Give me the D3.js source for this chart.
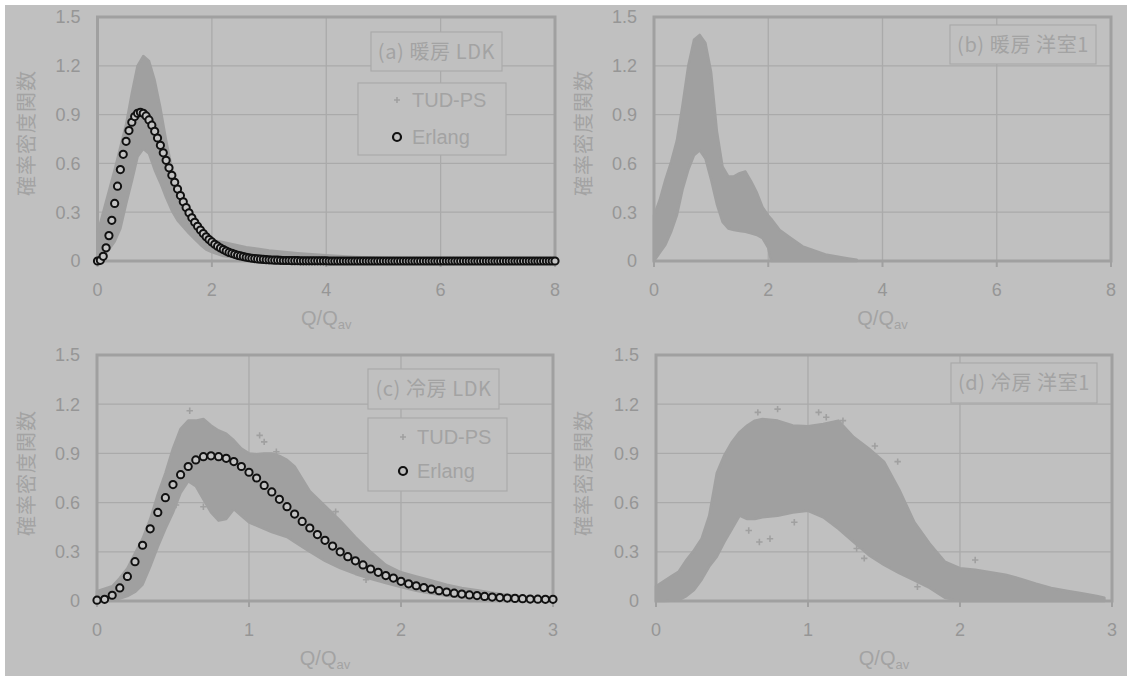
<!DOCTYPE html>
<html><head><meta charset="utf-8">
<script src="https://cdn.jsdelivr.net/npm/d3@7"></script>
<style>body{margin:0;background:#fff}svg{display:block}</style>
</head><body>
<svg id="chart" width="1127" height="678"></svg>
<script>
// ---------- DATA ----------
const Y_TICKS = [0, 0.3, 0.6, 0.9, 1.2, 1.5];
const Y_TICK_LABELS = ["0", "0.3", "0.6", "0.9", "1.2", "1.5"];
const X_TICKS_TOP = [0, 2, 4, 6, 8];
const X_TICKS_BOTTOM = [0, 1, 2, 3];
const Y_TITLE = "確率密度関数";
const X_TITLE_MAIN = "Q/Q";
const X_TITLE_SUB = "av";
const PANEL_TITLES = ["(a) 暖房 LDK", "(b) 暖房 洋室1", "(c) 冷房 LDK", "(d) 冷房 洋室1"];
const LEGEND_LABELS = ["TUD-PS", "Erlang"];

// (a) TUD-PS scatter band (upper / lower envelope)
const A_BAND_X  = [0,0.1,0.2,0.3,0.4,0.5,0.6,0.7,0.8,0.9,1.0,1.1,1.2,1.3,1.4,1.5,1.6,1.7,1.8,1.9,2.0,2.2,2.4,2.6,2.8,3.0,3.5,4.0,4.5,5.0,6.0];
const A_BAND_HI = [0.17,0.30,0.43,0.56,0.70,0.84,1.03,1.20,1.26,1.23,1.11,0.94,0.74,0.57,0.43,0.33,0.25,0.20,0.16,0.14,0.13,0.115,0.10,0.085,0.075,0.064,0.048,0.035,0.025,0.018,0.01];
const A_BAND_LO = [0,0.03,0.07,0.12,0.20,0.35,0.49,0.64,0.69,0.66,0.56,0.48,0.39,0.31,0.25,0.21,0.17,0.135,0.10,0.07,0.055,0.03,0.02,0.013,0.008,0.005,0,0,0,0,0];

// (a) Erlang
const A_ERL_X = [
0,0.05,0.1,0.15,0.2,0.25,0.3,0.35,0.4,0.45,
0.5,0.55,0.6,0.65,0.7,0.75,0.8,0.85,0.9,0.95,
1,1.05,1.1,1.15,1.2,1.25,1.3,1.35,1.4,1.45,
1.5,1.55,1.6,1.65,1.7,1.75,1.8,1.85,1.9,1.95,
2,2.05,2.1,2.15,2.2,2.25,2.3,2.35,2.4,2.45,
2.5,2.55,2.6,2.65,2.7,2.75,2.8,2.85,2.9,2.95,
3,3.05,3.1,3.15,3.2,3.25,3.3,3.35,3.4,3.45,
3.5,3.55,3.6,3.65,3.7,3.75,3.8,3.85,3.9,3.95,
4,4.05,4.1,4.15,4.2,4.25,4.3,4.35,4.4,4.45,
4.5,4.55,4.6,4.65,4.7,4.75,4.8,4.85,4.9,4.95,
5,5.05,5.1,5.15,5.2,5.25,5.3,5.35,5.4,5.45,
5.5,5.55,5.6,5.65,5.7,5.75,5.8,5.85,5.9,5.95,
6,6.05,6.1,6.15,6.2,6.25,6.3,6.35,6.4,6.45,
6.5,6.55,6.6,6.65,6.7,6.75,6.8,6.85,6.9,6.95,
7,7.05,7.1,7.15,7.2,7.25,7.3,7.35,7.4,7.45,
7.5,7.55,7.6,7.65,7.7,7.75,7.8,7.85,7.9,7.95,
8];
const A_ERL_Y = [
0,0.004,0.029,0.081,0.156,0.250,0.354,0.460,0.562,0.656,
0.736,0.802,0.853,0.888,0.908,0.914,0.908,0.892,0.867,0.835,
0.797,0.756,0.711,0.665,0.619,0.573,0.527,0.484,0.442,0.402,
0.364,0.329,0.296,0.266,0.238,0.213,0.190,0.169,0.149,0.132,
0.117,0.103,0.091,0.080,0.070,0.061,0.053,0.047,0.041,0.035,
0.031,0.027,0.023,0.020,0.017,0.015,0.013,0.011,0.010,0.008,
0.007,0.006,0.005,0.005,0.004,0.003,0.003,0.003,0.002,0.002,
0.002,0.001,0.001,0.001,0.001,0.001,0.001,0.001,0.001,0.001,
0.001,0,0,0,0,0,0,0,0,0,
0,0,0,0,0,0,0,0,0,0,
0,0,0,0,0,0,0,0,0,0,
0,0,0,0,0,0,0,0,0,0,
0,0,0,0,0,0,0,0,0,0,
0,0,0,0,0,0,0,0,0,0,
0,0,0,0,0,0,0,0,0,0,
0,0,0,0,0,0,0,0,0,0,
0];

// (b) TUD-PS band
const B_BAND_X  = [0,0.1,0.2,0.3,0.4,0.5,0.6,0.7,0.8,0.9,1.0,1.1,1.2,1.3,1.4,1.5,1.6,1.7,1.8,1.9,2.0,2.05,2.2,2.4,2.6,2.8,3.0,3.2,3.4,3.55];
const B_BAND_HI = [0.28,0.375,0.50,0.61,0.74,0.96,1.20,1.36,1.39,1.34,1.16,0.80,0.58,0.52,0.52,0.54,0.55,0.49,0.42,0.33,0.28,0.26,0.19,0.14,0.09,0.065,0.04,0.028,0.016,0.008];
const B_BAND_LO = [0,0.05,0.10,0.18,0.28,0.44,0.56,0.65,0.68,0.63,0.50,0.35,0.24,0.20,0.19,0.185,0.18,0.17,0.16,0.14,0.08,0,0,0,0,0,0,0,0,0];

// (c) TUD-PS band
const C_BAND_X  = [0,0.05,0.1,0.15,0.2,0.25,0.3,0.35,0.4,0.45,0.5,0.55,0.6,0.65,0.7,0.75,0.8,0.85,0.9,0.95,1.0,1.05,1.1,1.15,1.2,1.25,1.3,1.4,1.5,1.6,1.7,1.8,1.9,2.0,2.1,2.2,2.3,2.4,2.5,2.6,2.7,2.8,2.9,3.0];
const C_BAND_HI = [0.06,0.075,0.09,0.14,0.20,0.29,0.38,0.50,0.65,0.78,0.93,1.05,1.10,1.10,1.11,1.07,1.04,1.02,0.98,0.93,0.90,0.895,0.90,0.90,0.885,0.86,0.82,0.67,0.58,0.49,0.39,0.30,0.22,0.175,0.15,0.125,0.10,0.08,0.065,0.05,0.037,0.028,0.02,0.015];
const C_BAND_LO = [0,0.002,0.006,0.015,0.03,0.055,0.10,0.21,0.33,0.44,0.54,0.66,0.73,0.70,0.62,0.54,0.49,0.50,0.56,0.52,0.48,0.46,0.44,0.42,0.405,0.39,0.36,0.30,0.245,0.20,0.165,0.135,0.11,0.085,0.063,0.045,0.032,0.021,0.013,0.008,0.004,0.002,0,0];
const C_OUT_X = [0.61,1.07,1.10,1.18,0.52,0.70,1.57,1.77];
const C_OUT_Y = [1.16,1.01,0.97,0.91,0.585,0.575,0.545,0.13];

// (c) Erlang
const C_ERL_X = [
0,0.05,0.1,0.15,0.2,0.25,0.3,0.35,0.4,0.45,
0.5,0.55,0.6,0.65,0.7,0.75,0.8,0.85,0.9,0.95,
1,1.05,1.1,1.15,1.2,1.25,1.3,1.35,1.4,1.45,
1.5,1.55,1.6,1.65,1.7,1.75,1.8,1.85,1.9,1.95,
2,2.05,2.1,2.15,2.2,2.25,2.3,2.35,2.4,2.45,
2.5,2.55,2.6,2.65,2.7,2.75,2.8,2.85,2.9,2.95,
3];
const C_ERL_Y = [
0.005,0.01,0.035,0.08,0.15,0.24,0.34,0.44,0.54,0.63,
0.71,0.77,0.82,0.86,0.88,0.885,0.88,0.87,0.85,0.82,
0.785,0.75,0.705,0.665,0.62,0.575,0.53,0.485,0.445,0.405,
0.37,0.335,0.30,0.27,0.245,0.22,0.195,0.175,0.155,0.14,
0.12,0.105,0.093,0.082,0.072,0.063,0.055,0.048,0.042,0.037,
0.033,0.028,0.024,0.021,0.018,0.016,0.014,0.012,0.011,0.01,
0.01];

// (d) TUD-PS band
const D_BAND_X  = [0,0.05,0.1,0.15,0.2,0.25,0.3,0.35,0.4,0.45,0.5,0.55,0.6,0.65,0.7,0.8,0.9,1.0,1.1,1.2,1.3,1.4,1.5,1.6,1.7,1.8,1.9,2.0,2.1,2.2,2.3,2.4,2.5,2.6,2.7,2.8,2.9,2.95];
const D_BAND_HI = [0.09,0.12,0.15,0.18,0.25,0.31,0.38,0.52,0.78,0.89,0.97,1.03,1.07,1.10,1.11,1.10,1.07,1.065,1.08,1.10,1.00,0.93,0.85,0.68,0.48,0.35,0.24,0.20,0.19,0.175,0.16,0.135,0.105,0.08,0.063,0.047,0.03,0.02];
const D_BAND_LO = [0,0,0.002,0.005,0.03,0.067,0.13,0.21,0.27,0.36,0.44,0.52,0.50,0.50,0.51,0.52,0.54,0.55,0.51,0.44,0.36,0.28,0.22,0.17,0.125,0.08,0.02,0,0,0,0,0,0,0,0,0,0,0];
const D_OUT_X = [0.67,0.80,1.07,1.12,1.23,0.61,0.68,0.75,0.91,1.32,1.44,1.59,1.37,2.10,1.72];
const D_OUT_Y = [1.15,1.17,1.15,1.12,1.10,0.43,0.36,0.38,0.48,0.32,0.945,0.85,0.26,0.25,0.087];

// ---------- RENDER ----------
const BG = "#c0c0c0", GRID = "#aaaaaa", FRAME = "#a0a0a0", SCAT = "#a0a0a0",
      TXT = "#a3a3a3", NUM = "#969696";
const NUMFONT = "'Liberation Sans', Arial, sans-serif";
const CJK = "'Noto Sans CJK JP', 'Liberation Sans', sans-serif";

const svg = d3.select("#chart");
svg.append("rect").attr("x", 5).attr("y", 5).attr("width", 1122).attr("height", 671).attr("fill", BG);

const panels = [
  {left:97.5, right:555, top:17, bottom:261, xMax:8, xTicks:X_TICKS_TOP,
   band:[A_BAND_X,A_BAND_HI,A_BAND_LO], erl:[A_ERL_X,A_ERL_Y], out:null,
   title:PANEL_TITLES[0], tbox:[371,32,502,71], lbox:[358,83,506,155], lmark:397, ltext:412, lrows:[100,137],
   ytx:27, yty:133},
  {left:654, right:1111, top:17, bottom:261, xMax:8, xTicks:X_TICKS_TOP,
   band:[B_BAND_X,B_BAND_HI,B_BAND_LO], erl:null, out:null,
   title:PANEL_TITLES[1], tbox:[950,25,1096,64], lbox:null, ytx:584, yty:133},
  {left:97, right:553, top:355, bottom:601, xMax:3, xTicks:X_TICKS_BOTTOM,
   band:[C_BAND_X,C_BAND_HI,C_BAND_LO], erl:[C_ERL_X,C_ERL_Y], out:[C_OUT_X,C_OUT_Y],
   title:PANEL_TITLES[2], tbox:[368,369,499,409], lbox:[368,418,507,491], lmark:403, ltext:417, lrows:[437,471],
   ytx:27, yty:473},
  {left:656, right:1112, top:355, bottom:601, xMax:3, xTicks:X_TICKS_BOTTOM,
   band:[D_BAND_X,D_BAND_HI,D_BAND_LO], erl:null, out:[D_OUT_X,D_OUT_Y],
   title:PANEL_TITLES[3], tbox:[951,363,1097,403], lbox:null, ytx:584, yty:473}
];

function plus(g, cx, cy, s, w, col) {
  g.append("path").attr("d", `M${cx-s},${cy}H${cx+s}M${cx},${cy-s}V${cy+s}`)
   .attr("stroke", col).attr("stroke-width", w).attr("fill", "none");
}

panels.forEach(p => {
  const x = d3.scaleLinear().domain([0, p.xMax]).range([p.left, p.right]);
  const y = d3.scaleLinear().domain([0, 1.5]).range([p.bottom, p.top]);
  const g = svg.append("g");

  // grid
  g.selectAll(".gx").data(p.xTicks).join("line")
    .attr("x1", d => x(d)).attr("x2", d => x(d)).attr("y1", p.top).attr("y2", p.bottom)
    .attr("stroke", GRID).attr("stroke-width", 1.3);
  g.selectAll(".gy").data(Y_TICKS).join("line")
    .attr("x1", p.left).attr("x2", p.right).attr("y1", d => y(d)).attr("y2", d => y(d))
    .attr("stroke", GRID).attr("stroke-width", 1.3);

  // frame
  g.append("rect").attr("x", p.left).attr("y", p.top)
    .attr("width", p.right - p.left).attr("height", p.bottom - p.top)
    .attr("fill", "none").attr("stroke", FRAME).attr("stroke-width", 3);
  // x tick marks
  g.selectAll(".tk").data(p.xTicks).join("line")
    .attr("x1", d => x(d)).attr("x2", d => x(d)).attr("y1", p.bottom).attr("y2", p.bottom + 6)
    .attr("stroke", FRAME).attr("stroke-width", 2);

  // tick labels
  g.selectAll(".yl").data(Y_TICKS).join("text")
    .attr("x", p.left - 17).attr("y", d => y(d)).attr("dy", "0.36em")
    .attr("text-anchor", "end").attr("font-family", NUMFONT).attr("font-size", 18)
    .attr("fill", NUM).text((d, i) => Y_TICK_LABELS[i]);
  g.selectAll(".xl").data(p.xTicks).join("text")
    .attr("x", d => x(d)).attr("y", p.bottom + 35)
    .attr("text-anchor", "middle").attr("font-family", NUMFONT).attr("font-size", 18)
    .attr("fill", NUM).text(d => d);

  // axis titles
  g.append("text").attr("transform", `translate(${p.ytx},${p.yty}) rotate(-90)`)
    .attr("text-anchor", "middle").attr("dy", "0.35em").attr("letter-spacing", 1)
    .attr("font-family", CJK).attr("font-size", 20).attr("fill", TXT).text(Y_TITLE);
  const xt = g.append("text").attr("x", (p.left + p.right) / 2).attr("y", p.bottom + 64)
    .attr("text-anchor", "middle").attr("font-family", NUMFONT).attr("fill", TXT);
  xt.append("tspan").attr("font-size", 20).text(X_TITLE_MAIN);
  xt.append("tspan").attr("font-size", 13).attr("dy", 4).text(X_TITLE_SUB);

  // TUD-PS band
  const [bx, bh, bl] = p.band;
  const area = d3.area().x((d, i) => x(bx[i])).y0((d, i) => y(bl[i])).y1((d, i) => y(bh[i]));
  g.append("path").attr("d", area(bx)).attr("fill", SCAT)
    .attr("stroke", SCAT).attr("stroke-width", 2.5).attr("stroke-linejoin", "round");
  if (p.out) {
    p.out[0].forEach((v, i) => plus(g, x(v), y(p.out[1][i]), 3.2, 1.6, SCAT));
  }

  // Erlang
  if (p.erl) {
    const [ex, ey] = p.erl;
    g.selectAll(".erl").data(ex).join("circle")
      .attr("cx", d => x(d)).attr("cy", (d, i) => y(ey[i])).attr("r", 3.6)
      .attr("fill", "#c4c4c4").attr("stroke", "#111").attr("stroke-width", 2);
  }

  // title box
  const [tx0, ty0, tx1, ty1] = p.tbox;
  g.append("rect").attr("x", tx0).attr("y", ty0).attr("width", tx1 - tx0).attr("height", ty1 - ty0)
    .attr("fill", BG).attr("stroke", "#aaaaaa").attr("stroke-width", 1.2);
  g.append("text").attr("x", (tx0 + tx1) / 2).attr("y", (ty0 + ty1) / 2).attr("dy", "0.36em")
    .attr("text-anchor", "middle").attr("font-family", CJK).attr("font-size", 20)
    .attr("letter-spacing", 0.6).attr("fill", TXT).attr("xml:space", "preserve").text(p.title);

  // legend
  if (p.lbox) {
    const [lx0, ly0, lx1, ly1] = p.lbox;
    g.append("rect").attr("x", lx0).attr("y", ly0).attr("width", lx1 - lx0).attr("height", ly1 - ly0)
      .attr("fill", BG).attr("stroke", "#aaaaaa").attr("stroke-width", 1.2);
    plus(g, p.lmark, p.lrows[0], 3, 1.6, SCAT);
    g.append("circle").attr("cx", p.lmark).attr("cy", p.lrows[1]).attr("r", 4)
      .attr("fill", BG).attr("stroke", "#111").attr("stroke-width", 2.2);
    LEGEND_LABELS.forEach((t, i) => {
      g.append("text").attr("x", p.ltext).attr("y", p.lrows[i]).attr("dy", "0.36em")
        .attr("font-family", NUMFONT).attr("font-size", 20).attr("fill", TXT).text(t);
    });
  }
});
</script>
</body></html>
